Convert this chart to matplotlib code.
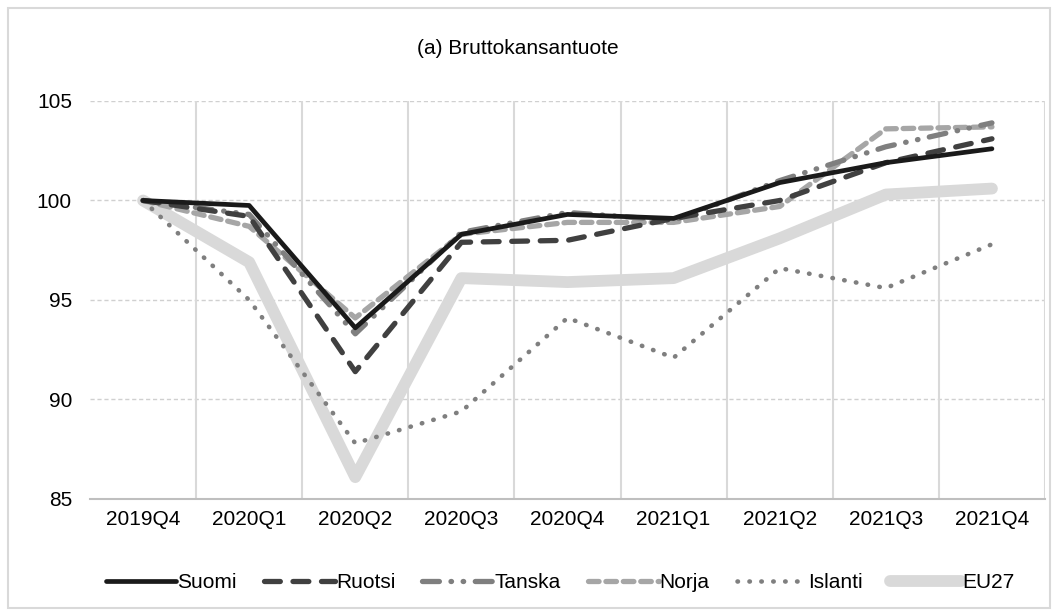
import numpy as np
import matplotlib.pyplot as plt
from matplotlib.patches import Rectangle

plt.rcParams['font.family'] = ['Liberation Sans', 'DejaVu Sans']

quarters = ["2019Q4", "2020Q1", "2020Q2", "2020Q3", "2020Q4",
            "2021Q1", "2021Q2", "2021Q3", "2021Q4"]
suomi = [100, 99.75, 93.6, 98.3, 99.3, 99.1, 100.9, 101.9, 102.6]
ruotsi = [100, 99.2, 91.4, 97.9, 98.0, 99.1, 100.0, 101.9, 103.1]
tanska = [100, 99.3, 93.3, 98.4, 99.4, 99.0, 101.0, 102.7, 103.9]
norja = [100, 98.7, 94.1, 98.3, 98.9, 98.9, 99.7, 103.6, 103.7]
islanti = [100, 95.0, 87.8, 89.4, 94.1, 92.1, 96.6, 95.6, 97.8]
eu27 = [100, 96.9, 86.1, 96.1, 95.9, 96.1, 98.1, 100.3, 100.6]

fig = plt.figure(figsize=(10.58, 6.1), dpi=100)
ax = fig.add_axes([90/1058, 1-499/610, (1045-90)/1058, (499-101)/610])

# outer frame
fig.patches.append(Rectangle((8/1058, 2/610), 1042/1058, 600/610, transform=fig.transFigure,
                             fill=False, edgecolor='#d9d9d9', lw=1.5))

x = np.arange(len(quarters))
ax.plot(x, eu27, color='#d9d9d9', lw=8.5, solid_capstyle='round', label='EU27', zorder=2)
ax.plot(x, islanti, color='#7f7f7f', lw=3.3, linestyle=(0, (0.1, 2.5)), dash_capstyle='round',
        label='Islanti', zorder=3)
ax.plot(x, norja, color='#a6a6a6', lw=3.8, linestyle=(0, (2.0, 1.3)), dash_capstyle='round',
        label='Norja', zorder=4)
ax.plot(x, tanska, color='#7f7f7f', lw=3.8, linestyle=(0, (3.2, 2.2, 0.1, 2.2, 0.1, 2.2)),
        dash_capstyle='round', label='Tanska', zorder=5)
ax.plot(x, ruotsi, color='#404040', lw=3.8, linestyle=(0, (3.0, 2.4)), dash_capstyle='round',
        label='Ruotsi', zorder=6)
ax.plot(x, suomi, color='#1a1a1a', lw=3.4, solid_capstyle='round', label='Suomi', zorder=7)

ax.set_xlim(-0.5, len(quarters) - 0.5)
ax.set_ylim(85, 105)
ax.set_yticks([85, 90, 95, 100, 105])
ax.set_xticks(x)
ax.set_xticklabels(quarters)
ax.tick_params(length=0, labelsize=15, colors='black')
ax.tick_params(axis='x', pad=8)
ax.tick_params(axis='y', pad=13)

for v in [90, 95, 100, 105]:
    ax.axhline(v, color='#d0d0d0', lw=1, linestyle=(0, (3, 2)), zorder=0)
for b in np.arange(0.5, len(quarters) - 0.5, 1):
    ax.axvline(b, color='#d9d9d9', lw=1.5, zorder=0)
ax.axvline(len(quarters) - 0.5, color='#d9d9d9', lw=1.5, zorder=0)

for s in ['top', 'right', 'left']:
    ax.spines[s].set_visible(False)
ax.spines['bottom'].set_color('#bfbfbf')
ax.spines['bottom'].set_linewidth(1.5)

fig.text(518/1058, 1-48/610, "(a) Bruttokansantuote", ha='center', va='center', fontsize=15)

handles, labels = ax.get_legend_handles_labels()
order = ['Suomi', 'Ruotsi', 'Tanska', 'Norja', 'Islanti', 'EU27']
hmap = dict(zip(labels, handles))
fig.legend([hmap[k] for k in order], order, loc='center', bbox_to_anchor=(560/1058, 1-583/610),
           ncol=6, frameon=False, fontsize=15, handlelength=3.4, handletextpad=0.05,
           columnspacing=1.3)

fig.savefig("out.png", dpi=100)
